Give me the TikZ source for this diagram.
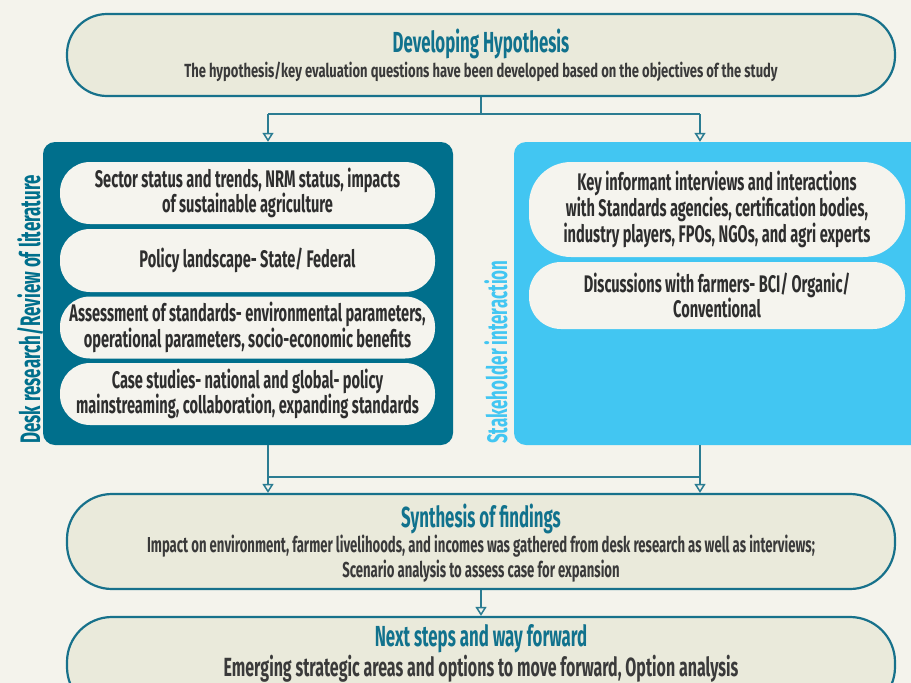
\documentclass[tikz,border=0pt]{standalone}
\usepackage{fontspec}
\usetikzlibrary{arrows.meta}

% condensed faces built from Fira Sans
\newfontfamily\ftitle{Fira Sans}[UprightFont=* Bold, FakeStretch=0.58]
\newfontfamily\fsemi{Fira Sans}[UprightFont=* Bold, FakeStretch=0.608]
\newfontfamily\fsubt{Fira Sans}[UprightFont=* Bold, FakeStretch=0.684]
\newfontfamily\fheavy{Fira Sans}[UprightFont=* Bold, FakeStretch=0.6]

\definecolor{pagebg}{HTML}{F4F3EC}
\definecolor{stagefill}{HTML}{EAEADB}
\definecolor{stageline}{HTML}{17718B}
\definecolor{headteal}{HTML}{11728D}
\definecolor{deskblue}{HTML}{006F8C}
\definecolor{skyblue}{HTML}{42C6F2}
\definecolor{pillfill}{HTML}{F5F4EE}
\definecolor{inkgray}{HTML}{2E2E2E}
\definecolor{subgray}{HTML}{3A3A3A}
\definecolor{linecol}{HTML}{2B7C92}

\tikzset{
  stagebox/.style={draw=stageline, line width=2.2pt, fill=stagefill,
    rounded corners=40pt, minimum width=828pt, inner sep=0pt},
  stagehead/.style={text=headteal, font=\ftitle\fontsize{29}{30}\selectfont,
    inner sep=0pt, anchor=base},
  stagesub/.style={text=subgray, font=\fsubt\fontsize{19}{20}\selectfont,
    inner sep=0pt, anchor=base},
  stagebody/.style={text=subgray, font=\fsemi\fontsize{21.6}{24}\selectfont,
    inner sep=0pt, anchor=base},
  panelbox/.style={rounded corners=12pt, minimum height=303pt, inner sep=0pt},
  pillbox/.style={fill=pillfill, inner sep=0pt, align=center, text=inkgray,
    font=\fsemi\fontsize{24}{23.5}\selectfont},
  sidelabel/.style={font=\fheavy\fontsize{28.2}{29}\selectfont, rotate=90,
    anchor=base west, inner sep=0pt},
  conn/.style={draw=linecol, line width=1.5pt},
  arr/.style={conn, -{Triangle[open, length=9pt, width=11pt, line width=1.5pt]}}
}

\begin{document}
\begin{tikzpicture}[x=1pt, y=-1pt]
  \clip (0,0) rectangle (911,683);
  \fill[pagebg] (0,0) rectangle (911,683);

  % first stage
  \node[stagebox, minimum height=82pt] (top) at (481,55) {};
  \node[stagehead] (topT) at (481,52.5) {Developing Hypothesis};
  \node[stagesub] (topS) at (481,77) {The hypothesis/key evaluation questions have been developed based on the objectives of the study};

  % desk research panel
  \node[panelbox, fill=deskblue, minimum width=410pt] (lp) at (248,293.5) {};
  \node[sidelabel, text=deskblue] (lpL) at (40,444) {Desk research/Review of literature};
  \node[pillbox, minimum width=375pt, minimum height=62pt, rounded corners=30pt] (d1) at (247.5,193)
    {Sector status and trends, NRM status, impacts\\of sustainable agriculture};
  \node[pillbox, minimum width=375pt, minimum height=63pt, rounded corners=30pt] (d2) at (247.5,260.5)
    {Policy landscape- State/ Federal};
  \node[pillbox, minimum width=375pt, minimum height=62pt, rounded corners=30pt] (d3) at (247.5,327.5)
    {Assessment of standards- environmental parameters,\\operational parameters, socio-economic benefits};
  \node[pillbox, minimum width=375pt, minimum height=62pt, rounded corners=30pt] (d4) at (247.5,394)
    {Case studies- national and global- policy\\mainstreaming, collaboration, expanding standards};

  % stakeholder panel
  \node[panelbox, fill=skyblue, minimum width=421pt] (rp) at (724.5,293.5) {};
  \node[sidelabel, text=skyblue] (rpL) at (507,444) {Stakeholder interaction};
  \node[pillbox, minimum width=376pt, minimum height=95pt, rounded corners=42pt] (s1) at (717,209.5)
    {Key informant interviews and interactions\\with Standards agencies, certification bodies,\\industry players, FPOs, NGOs, and agri experts};
  \node[pillbox, minimum width=376pt, minimum height=67pt, rounded corners=32pt] (s2) at (717,295.5)
    {Discussions with farmers- BCI/ Organic/\\Conventional};

  % synthesis stage
  \node[stagebox, minimum height=95pt, rounded corners=45pt] (syn) at (481,541.5) {};
  \node[stagehead] (synT) at (481,527) {Synthesis of findings};
  \node[stagebody] (synA) at (481,552) {Impact on environment, farmer livelihoods, and incomes was gathered from desk research as well as interviews;};
  \node[stagebody] (synB) at (481,577) {Scenario analysis to assess case for expansion};

  % last stage
  \node[stagebox, minimum height=95pt, rounded corners=45pt] (nxt) at (481,664.5) {};
  \node[stagehead] (nxtT) at (481,646) {Next steps and way forward};
  \node[stagebody, font=\fsemi\fontsize{26.3}{28}\selectfont] (nxtA) at (481,676.5) {Emerging strategic areas and options to move forward, Option analysis};

  % connectors
  \coordinate (jl) at (268,114);
  \coordinate (jr) at (700,114);
  \draw[conn] (top.south) -- (top.south |- jl);
  \draw[conn] (jl) -- (jr);
  \draw[arr] (jl) -- (jl |- lp.north);
  \draw[arr] (jr) -- (jr |- rp.north);

  \coordinate (bl) at (268,477);
  \coordinate (br) at (700,477);
  \draw[arr] (bl |- lp.south) -- (bl |- syn.north);
  \draw[arr] (br |- rp.south) -- (br |- syn.north);
  \draw[conn] (bl) -- (br);
  \draw[arr] (syn.south) -- (nxt.north);
\end{tikzpicture}
\end{document}
